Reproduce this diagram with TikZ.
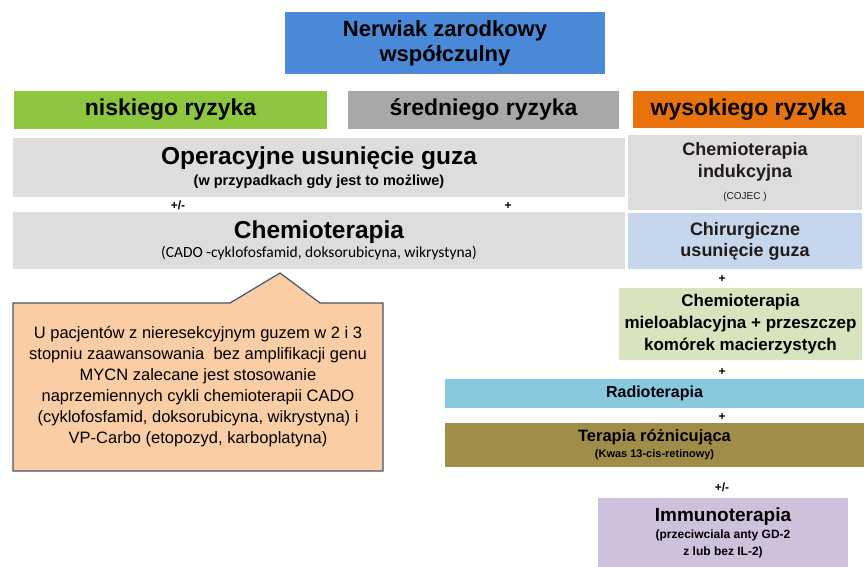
\documentclass[tikz,border=0pt]{standalone}
\usepackage{fontspec}
\setmainfont{Liberation Sans}
\newfontfamily\carlito{Carlito}
\newcommand\fsz[2]{\fontsize{#1}{#2}\selectfont}
\definecolor{topblue}{HTML}{4A88D8}
\definecolor{lowgreen}{HTML}{8DC63F}
\definecolor{midgray}{HTML}{A8A8A8}
\definecolor{highorange}{HTML}{E8730C}
\definecolor{lightgray}{HTML}{DDDDDD}
\definecolor{surgblue}{HTML}{C6D6EC}
\definecolor{paleolive}{HTML}{D7E4BD}
\definecolor{radioblue}{HTML}{88C9E0}
\definecolor{olive}{HTML}{A08E48}
\definecolor{lavender}{HTML}{CDC1DB}
\definecolor{peach}{HTML}{FBCDA4}
\definecolor{slate}{HTML}{45546C}
\definecolor{textdark}{HTML}{231A1A}
\begin{document}
\begin{tikzpicture}[x=1pt,y=-1pt,
  box/.style={inner sep=0pt, outer sep=0pt, align=center, anchor=north west, text=black},
  sign/.style={inner sep=0pt, font=\fsz{12}{14}\bfseries, text=black}]
\useasboundingbox (0,0) rectangle (864,567);
\fill[white] (0,0) rectangle (864,567);

% title
\node[box, fill=topblue, minimum width=320pt, minimum height=62pt, font=\fsz{22}{25}\bfseries] (top) at (285,12) {Nerwiak zarodkowy\\współczulny};

% risk headers
\node[box, fill=lowgreen, minimum width=313pt, minimum height=38pt, font=\fsz{23}{26}\bfseries] (low) at (14,91) {niskiego ryzyka};
\node[box, fill=midgray, minimum width=271pt, minimum height=38pt, font=\fsz{23}{26}\bfseries] (mid) at (348,91) {średniego ryzyka};
\node[box, fill=highorange, minimum width=231pt, minimum height=37pt, font=\fsz{23}{26}\bfseries] (high) at (633,91) {wysokiego ryzyka};

% left / middle column
\node[box, fill=lightgray, minimum width=612pt, minimum height=59pt, font=\fsz{14.5}{21}\bfseries] (oper) at (13,138)
  {{\fsz{24.5}{27}\bfseries Operacyjne usunięcie guza}\\(w przypadkach gdy jest to możliwe)};
\node[sign] (pm1) at (178,205) {+/-};
\node[sign] (p1) at (508,206) {+};
\node[box, fill=lightgray, minimum width=612pt, minimum height=57pt, font=\fsz{15.5}{19}\carlito] (chemo) at (13,212)
  {{\fsz{24.5}{27}\rmfamily\bfseries Chemioterapia}\\(CADO -cyklofosfamid, doksorubicyna, wikrystyna)};

% callout
\draw[fill=peach, draw=slate, line width=1.2pt, line join=miter]
  (13,303) -- (230,303) -- (280,273) -- (320,303) -- (383,303) -- (383,471) -- (13,471) -- cycle;
\node[inner sep=0pt, align=center, font=\fsz{16.5}{21}, text=black] (note) at (198,387)
  {U pacjentów z nieresekcyjnym guzem w 2 i 3\\
   stopniu zaawansowania\ \ bez amplifikacji genu\\
   MYCN zalecane jest stosowanie\\
   naprzemiennych cykli chemioterapii CADO\\
   (cyklofosfamid, doksorubicyna, wikrystyna) i\\
   VP-Carbo (etopozyd, karboplatyna)};

% right column
\node[box, fill=lightgray, minimum width=234pt, minimum height=75pt, font=\fsz{18}{22}\bfseries, text=textdark] (induk) at (628,135)
  {Chemioterapia\\indukcyjna\\{\fsz{10}{12}\mdseries (COJEC )}};
\node[box, fill=surgblue, minimum width=234pt, minimum height=56pt, font=\fsz{18}{21}\bfseries, text=textdark] (surg) at (628,213)
  {Chirurgiczne\\usunięcie guza};
\node[sign] (p2) at (722,279) {+};
\node[box, fill=paleolive, minimum width=243pt, minimum height=72pt, font=\fsz{17}{22}\bfseries] (mielo) at (619,288)
  {Chemioterapia\\mieloablacyjna + przeszczep\\komórek macierzystych};
\node[sign] (p3) at (722,372) {+};
\node[box, fill=radioblue, minimum width=419pt, minimum height=29pt, font=\fsz{16}{19}\bfseries] (radio) at (445,379)
  {Radioterapia};
\node[sign] (p4) at (722,417) {+};
\node[box, fill=olive, minimum width=419pt, minimum height=44pt, font=\fsz{11}{16}\bfseries] (diff) at (445,423)
  {{\fsz{16.5}{19}\bfseries Terapia różnicująca}\\(Kwas 13-cis-retinowy)};
\node[sign] (pm2) at (722,487) {+/-};
\node[box, fill=lavender, minimum width=250pt, minimum height=69pt, font=\fsz{12}{17}\bfseries] (immuno) at (598,498)
  {{\fsz{19}{22}\bfseries Immunoterapia}\\(przeciwciala anty GD-2\\z lub bez IL-2)};
\end{tikzpicture}
\end{document}
